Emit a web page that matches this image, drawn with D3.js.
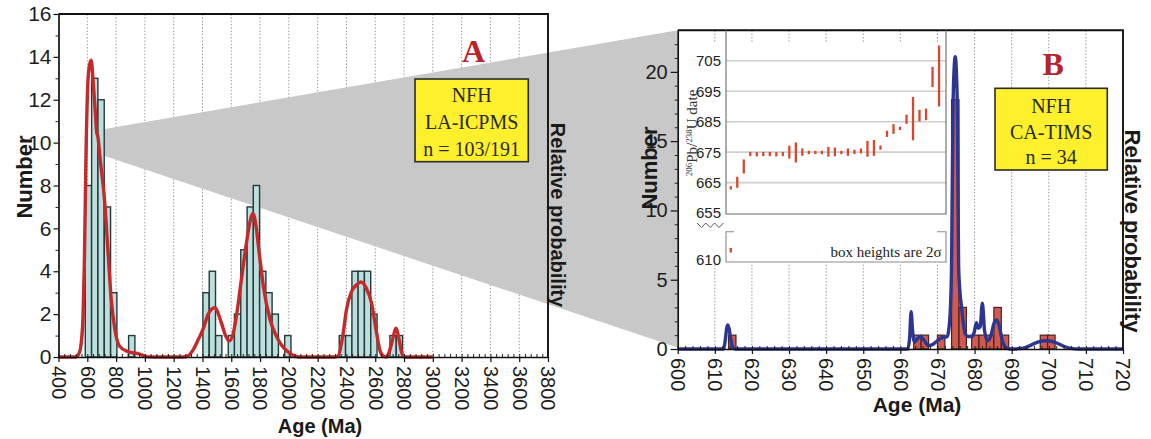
<!DOCTYPE html>
<html>
<head>
<meta charset="utf-8">
<script src="https://cdn.jsdelivr.net/npm/d3@7"></script>
<style>
  html, body { margin: 0; padding: 0; background: #fff; }
  svg { display: block; }
</style>
</head>
<body>
<svg id="fig" width="1151" height="439"></svg>
<script>
// ---------------- Panel A: NFH detrital zircon, LA-ICPMS ----------------
const binWidthA = 43.6;
const binStartA = [586, 630, 674, 718, 762, 887,
                   1403, 1447, 1491, 1579, 1622, 1666, 1710, 1753, 1797, 1840, 1884, 1971,
                   2350, 2394, 2438, 2481, 2525, 2569,
                   2702, 2746];
const binCountA = [8, 13, 12, 7, 3, 1,
                   3, 4, 1, 1, 2, 5, 7, 8, 4, 3, 2, 1,
                   1, 1, 4, 4, 4, 2,
                   1, 1];

// relative probability curve (scaled to the Number axis)
const probAgeA = [400, 520, 545, 560, 570, 580, 590, 604, 615, 627, 640, 657, 665, 673, 690, 720, 743, 766, 789, 824, 882, 963, 1010, 1060,
                  1266, 1300, 1335, 1370, 1404, 1440, 1485, 1531, 1560, 1585, 1610, 1640, 1670, 1705, 1730, 1751, 1772, 1795, 1823, 1869, 1915, 1950, 1984, 2020, 2070,
                  2320, 2342, 2377, 2400, 2435, 2470, 2500, 2535, 2575, 2610, 2632, 2655, 2678, 2700, 2720, 2743, 2766, 2780, 2794, 2810, 3000];
const probValA = [0, 0, 0.2, 0.8, 1.8, 4.5, 9, 12.8, 13.6, 13.85, 12.9, 11.3, 10.5, 10.3, 9.2, 7.3, 5.0, 2.7, 1.4, 0.5, 0.25, 0.14, 0.02, 0,
                  0, 0.05, 0.33, 0.8, 1.3, 2.0, 2.3, 1.6, 1.0, 0.75, 1.0, 2.1, 3.6, 5.3, 6.3, 6.7, 6.1, 4.8, 3.3, 1.75, 0.95, 0.55, 0.3, 0.12, 0,
                  0, 0.05, 1.1, 2.2, 3.05, 3.36, 3.5, 3.25, 2.5, 1.1, 0.33, 0.05, 0, 0.3, 0.8, 1.34, 0.8, 0.3, 0.05, 0, 0];

const ageTicksA = d3.range(400, 3801, 200);
const numTicksA = d3.range(0, 17, 2);

// ---------------- Panel B: NFH CA-TIMS ----------------
const binWidthB = 2;
const binStartB = [613.7, 663.6, 665.6, 670.0, 673.8, 675.8, 679.2, 681.2, 683.2, 685.2, 687.2, 697.7, 699.7];
const binCountB = [1, 1, 1, 1, 18, 3, 1, 1, 1, 3, 1, 1, 1];

const probAgeB = [600, 612.3, 612.8, 613.2, 613.5, 613.9, 614.3, 614.8, 615.5,
                  662.0, 662.5, 662.9, 663.3, 663.8, 664.5, 665.3, 666.2, 667.5, 668.5, 670.0, 671.0, 672.0, 672.6,
                  673.0, 673.5, 673.8, 674.2, 674.5, 674.8, 675.1, 675.4, 675.7, 676.1, 676.5, 677.0, 677.5, 678.3,
                  679.3, 679.9, 680.5, 681.0, 681.5, 682.1, 682.7, 683.5, 684.3, 685.3, 686.0, 686.7, 687.5, 688.5,
                  690, 693, 695, 697, 699.5, 702, 704, 706, 708, 720];
const probValB = [0, 0, 0.6, 1.5, 1.73, 1.4, 0.7, 0.15, 0,
                  0, 0.8, 2.7, 1.3, 0.5, 0.7, 0.9, 0.7, 0.25, 0.3, 0.6, 0.8, 0.85, 0.9,
                  1.3, 3, 6, 17.5, 20.3, 21.1, 20.0, 16.5, 6, 4, 3, 1.8, 1.1, 0.9,
                  0.9, 1.2, 1.9, 1.5, 1.6, 3.3, 1.3, 0.6, 0.9, 1.9, 2.1, 1.6, 0.6, 0.1,
                  0, 0.05, 0.25, 0.5, 0.6, 0.45, 0.2, 0.05, 0, 0];

const ageTicksB = d3.range(600, 721, 10);
const numTicksB = [0, 5, 10, 15, 20];

// inset: ranked 206Pb/238U dates with box half-heights (2 sigma)
const rankedDates = [663.3, 665.1, 670.3, 674.4, 674.3, 674.4, 674.4, 674.3, 674.4,
                     675.0, 674.9, 675.0, 674.9, 674.9, 674.9, 675.1, 675.1, 674.9, 675.0, 675.1, 675.4,
                     676.1, 676.4, 676.5, 681.0, 682.6, 682.8, 685.8, 686.0, 687.0, 687.4, 699.7, 700.0];
const rankedErr   = [0.55, 1.8, 2.3, 0.7, 0.7, 0.7, 0.7, 0.7, 0.7,
                     2.1, 3.3, 1.2, 0.55, 0.55, 0.55, 1.6, 1.4, 0.55, 1.2, 0.7, 0.8,
                     2.6, 2.6, 0.7, 1.0, 1.6, 0.55, 1.5, 7.1, 1.9, 1.9, 3.3, 10];
const lowDate = 613.1, lowErr = 0.75;
const insetTicksUpper = [655, 665, 675, 685, 695, 705];
const insetTicksLower = [610];

// ---------------- drawing ----------------
const SANS = "'Liberation Sans', Arial, Helvetica, sans-serif";
const SERIF = "'Liberation Serif', 'Times New Roman', Times, serif";
const svg = d3.select("#fig");

const xA = d3.scaleLinear().domain([400, 3800]).range([58.5, 548]);
const yA = d3.scaleLinear().domain([0, 16]).range([357, 14]);
const xB = d3.scaleLinear().domain([600, 720]).range([677.7, 1123]);
const yB = d3.scaleLinear().domain([0, 23]).range([349, 30.3]);

// vertical dotted grid, panel A
svg.append("g").selectAll("line")
  .data(ageTicksA.slice(1, -1)).join("line")
  .attr("x1", d => xA(d)).attr("x2", d => xA(d))
  .attr("y1", yA(16)).attr("y2", yA(0))
  .attr("stroke", "#9a9a9a").attr("stroke-width", 1).attr("stroke-dasharray", "1.5,1.8");

// vertical dotted grid, panel B
svg.append("g").selectAll("line")
  .data(ageTicksB.slice(1, -1)).join("line")
  .attr("x1", d => xB(d)).attr("x2", d => xB(d))
  .attr("y1", yB(23)).attr("y2", yB(0))
  .attr("stroke", "#9a9a9a").attr("stroke-width", 1).attr("stroke-dasharray", "1.5,1.8");

// grey zoom wedge linking the 600-720 Ma window of A to panel B
svg.append("polygon")
  .attr("points", [
    [xA(690), yA(10.6)], [xB(600), yB(23)], [xB(600), yB(0.1)], [xA(690), yA(9.45)]
  ].map(p => p.join(",")).join(" "))
  .attr("fill", "#c8c8c8");

// histogram A
svg.append("g").selectAll("rect")
  .data(binStartA.map((s, i) => ({ s, c: binCountA[i] }))).join("rect")
  .attr("x", d => xA(d.s)).attr("width", d => xA(d.s + binWidthA) - xA(d.s))
  .attr("y", d => yA(d.c)).attr("height", d => yA(0) - yA(d.c))
  .attr("fill", "#bcdedd").attr("stroke", "#23393a").attr("stroke-width", 1.4);

// probability curve A
const lineA = d3.line().x(d => xA(d[0])).y(d => yA(d[1])).curve(d3.curveMonotoneX);
svg.append("path")
  .attr("d", lineA(probAgeA.map((a, i) => [a, probValA[i]])))
  .attr("fill", "none").attr("stroke", "#c42a2a").attr("stroke-width", 3.4)
  .attr("stroke-linejoin", "round");

// histogram B
svg.append("g").selectAll("rect")
  .data(binStartB.map((s, i) => ({ s, c: binCountB[i] }))).join("rect")
  .attr("x", d => xB(d.s)).attr("width", d => xB(d.s + binWidthB) - xB(d.s))
  .attr("y", d => yB(d.c)).attr("height", d => yB(0) - yB(d.c))
  .attr("fill", "#cf5a50").attr("stroke", "#4a1f1f").attr("stroke-width", 1.2);

// probability curve B
const lineB = d3.line().x(d => xB(d[0])).y(d => yB(d[1])).curve(d3.curveMonotoneX);
svg.append("path")
  .attr("d", lineB(probAgeB.map((a, i) => [a, probValB[i]])))
  .attr("fill", "none").attr("stroke", "#2c3590").attr("stroke-width", 3.4)
  .attr("stroke-linejoin", "round");

// ---------- axes ----------
function styleAxis(g, size) {
  g.attr("font-family", SANS).attr("font-size", size);
  g.select(".domain").attr("stroke", "#111").attr("stroke-width", 1.7);
  g.selectAll(".tick line").attr("stroke", "#111").attr("stroke-width", 1.2);
  g.selectAll(".tick text").attr("fill", "#1d1d1d");
}
function rotateLabels(g, off) {
  g.selectAll(".tick text")
    .attr("transform", "rotate(90)")
    .attr("x", off).attr("y", 0).attr("dy", "0.36em")
    .style("text-anchor", "start");
}

// Panel A axes
svg.append("g").attr("transform", `translate(0,${yA(0)})`)
  .call(d3.axisBottom(xA).tickValues(d3.range(400, 3800, 40)).tickSize(-3).tickFormat(""))
  .call(g => { g.select(".domain").remove(); g.selectAll("line").attr("stroke", "#222"); });
svg.append("g").attr("transform", `translate(0,${yA(0)})`)
  .call(d3.axisBottom(xA).tickValues(ageTicksA).tickSize(5).tickSizeOuter(0).tickFormat(d3.format("d")))
  .call(g => styleAxis(g, 20)).call(g => rotateLabels(g, 9));
svg.append("g").attr("transform", `translate(${xA(400)},0)`)
  .call(d3.axisLeft(yA).tickValues(d3.range(1, 16, 2)).tickSize(3).tickFormat(""))
  .call(g => { g.select(".domain").remove(); g.selectAll("line").attr("stroke", "#222"); });
svg.append("g").attr("transform", `translate(${xA(400)},0)`)
  .call(d3.axisLeft(yA).tickValues(numTicksA).tickSize(5).tickSizeOuter(0).tickPadding(2))
  .call(g => styleAxis(g, 21));

// Panel A frame (top and right)
svg.append("path")
  .attr("d", `M${xA(400)},${yA(16)}H${xA(3800)}V${yA(0)}`)
  .attr("fill", "none").attr("stroke", "#111").attr("stroke-width", 1.9);

// Panel B axes
svg.append("g").attr("transform", `translate(0,${yB(0)})`)
  .call(d3.axisBottom(xB).tickValues(d3.range(600, 720, 2)).tickSize(-3).tickFormat(""))
  .call(g => { g.select(".domain").remove(); g.selectAll("line").attr("stroke", "#222"); });
svg.append("g").attr("transform", `translate(0,${yB(0)})`)
  .call(d3.axisBottom(xB).tickValues(ageTicksB).tickSize(5).tickSizeOuter(0).tickFormat(d3.format("d")))
  .call(g => styleAxis(g, 20)).call(g => rotateLabels(g, 9));
svg.append("g").attr("transform", `translate(${xB(600)},0)`)
  .call(d3.axisLeft(yB).tickValues(d3.range(1, 23, 1).filter(v => v % 5)).tickSize(3).tickFormat(""))
  .call(g => { g.select(".domain").remove(); g.selectAll("line").attr("stroke", "#222"); });
svg.append("g").attr("transform", `translate(${xB(600)},0)`)
  .call(d3.axisLeft(yB).tickValues(numTicksB).tickSize(7).tickSizeOuter(0).tickPadding(3))
  .call(g => styleAxis(g, 20));

// Panel B frame
svg.append("path")
  .attr("d", `M${xB(600)},${yB(23)}H${xB(720)}V${yB(0)}`)
  .attr("fill", "none").attr("stroke", "#111").attr("stroke-width", 1.9);

// ---------- inset: ranked dates ----------
const insetL = 726, insetR = 946;
const insetX = d3.scaleLinear().domain([0, rankedDates.length - 1]).range([730.7, 939]);
const insetY = d3.scaleLinear().domain([654.7, 715]).range([214, 30.3]);
const insetYLow = d3.scaleLinear().domain([609.2, 619.2]).range([262, 231.7]);
const inset = svg.append("g");

inset.append("rect")
  .attr("x", 684).attr("y", 43).attr("width", insetR - 684).attr("height", 263 - 43)
  .attr("fill", "#fff");

inset.append("g").selectAll("line")
  .data(insetTicksUpper.slice(1)).join("line")
  .attr("x1", insetL).attr("x2", insetR)
  .attr("y1", d => insetY(d)).attr("y2", d => insetY(d))
  .attr("stroke", "#cfcfcf").attr("stroke-width", 1.6);

// box outlines
inset.append("path")
  .attr("d", `M${insetL},${yB(23)}V${insetY(654.7)}H${insetR}V${yB(23)}`)
  .attr("fill", "none").attr("stroke", "#6a6a6a").attr("stroke-width", 1.1);
inset.append("path")
  .attr("d", `M${insetL + 8},${insetYLow(619.2)}H${insetL}V${insetYLow(609.2)}H${insetR}V${insetYLow(619.2)}H${insetR - 9}`)
  .attr("fill", "none").attr("stroke", "#8a8a8a").attr("stroke-width", 1.1);

// axis break
inset.append("path")
  .attr("d", "M697,223 l4.4,4.5 l4.4,-4.5 l4.4,4.5 l4.4,-4.5 l4.4,4.5 l4.4,-4.5")
  .attr("fill", "none").attr("stroke", "#555").attr("stroke-width", 1);

// error boxes
inset.append("g").selectAll("rect")
  .data(rankedDates.map((d, i) => ({ d, e: rankedErr[i], i }))).join("rect")
  .attr("x", d => insetX(d.i) - 1.1).attr("width", 2.3)
  .attr("y", d => insetY(d.d + d.e)).attr("height", d => insetY(d.d - d.e) - insetY(d.d + d.e))
  .attr("fill", "#d6472e");
inset.append("rect")
  .attr("x", insetX(0) - 1.1).attr("width", 2.3)
  .attr("y", insetYLow(lowDate + lowErr)).attr("height", insetYLow(lowDate - lowErr) - insetYLow(lowDate + lowErr))
  .attr("fill", "#d6472e");

// inset tick labels
inset.append("g").selectAll("text")
  .data(insetTicksUpper).join("text")
  .attr("x", 721).attr("y", d => insetY(d)).attr("dy", "0.36em")
  .attr("text-anchor", "end").attr("font-family", SANS).attr("font-size", 15).attr("fill", "#222")
  .text(d => d);
inset.append("g").selectAll("text")
  .data(insetTicksLower).join("text")
  .attr("x", 721).attr("y", d => insetYLow(d)).attr("dy", "0.36em")
  .attr("text-anchor", "end").attr("font-family", SANS).attr("font-size", 15).attr("fill", "#222")
  .text(d => d);

// inset y title: 206Pb/238U date
const it = inset.append("text")
  .attr("transform", "translate(697,133) rotate(-90)")
  .attr("text-anchor", "middle").attr("font-family", SERIF).attr("font-size", 15).attr("fill", "#333");
it.append("tspan").attr("font-size", 9).attr("dy", -5).text("206");
it.append("tspan").attr("dy", 5).text("Pb/");
it.append("tspan").attr("font-size", 9).attr("dy", -5).text("238");
it.append("tspan").attr("dy", 5).text("U date");

inset.append("text")
  .attr("x", 941.5).attr("y", 256.5).attr("text-anchor", "end")
  .attr("font-family", SERIF).attr("font-size", 15).attr("fill", "#222")
  .text("box heights are 2σ");

// ---------- titles ----------
function title(txt, x, y, rot, size) {
  svg.append("text")
    .attr("transform", `translate(${x},${y}) rotate(${rot})`)
    .attr("text-anchor", "middle").attr("font-family", SANS).attr("font-weight", "bold")
    .attr("font-size", size).attr("fill", "#1a1a1a").text(txt);
}
title("Age (Ma)", 320, 433, 0, 20);
title("Number", 32, 177, -90, 22);
title("Relative probability", 550.5, 215, 90, 20);
title("Age (Ma)", 917, 412, 0, 21);
title("Number", 657, 168, -90, 22);
title("Relative probability", 1125, 231, 90, 22);

// ---------- sample labels ----------
function sampleBox(x0, y0, x1, y1, lines, baselines, letter, letterY) {
  svg.append("rect")
    .attr("x", x0).attr("y", y0).attr("width", x1 - x0).attr("height", y1 - y0)
    .attr("fill", "#fff02e").attr("stroke", "#2b2b2b").attr("stroke-width", 1.6);
  const cx = (x0 + x1) / 2;
  lines.forEach((t, i) => {
    svg.append("text").attr("x", cx).attr("y", baselines[i]).attr("text-anchor", "middle")
      .attr("font-family", SERIF).attr("font-size", 20).attr("fill", "#2a2a2a").text(t);
  });
  svg.append("text").attr("x", cx + 2).attr("y", letterY).attr("text-anchor", "middle")
    .attr("font-family", SERIF).attr("font-weight", "bold").attr("font-size", 32)
    .attr("fill", "#b8222b").text(letter);
}
sampleBox(415, 79, 528.3, 161.7, ["NFH", "LA-ICPMS", "n = 103/191"], [101.7, 128.5, 155.5], "A", 62);
sampleBox(995, 88.3, 1107.3, 170, ["NFH", "CA-TIMS", "n = 34"], [112.7, 138.5, 163.5], "B", 75);
</script>
</body>
</html>
